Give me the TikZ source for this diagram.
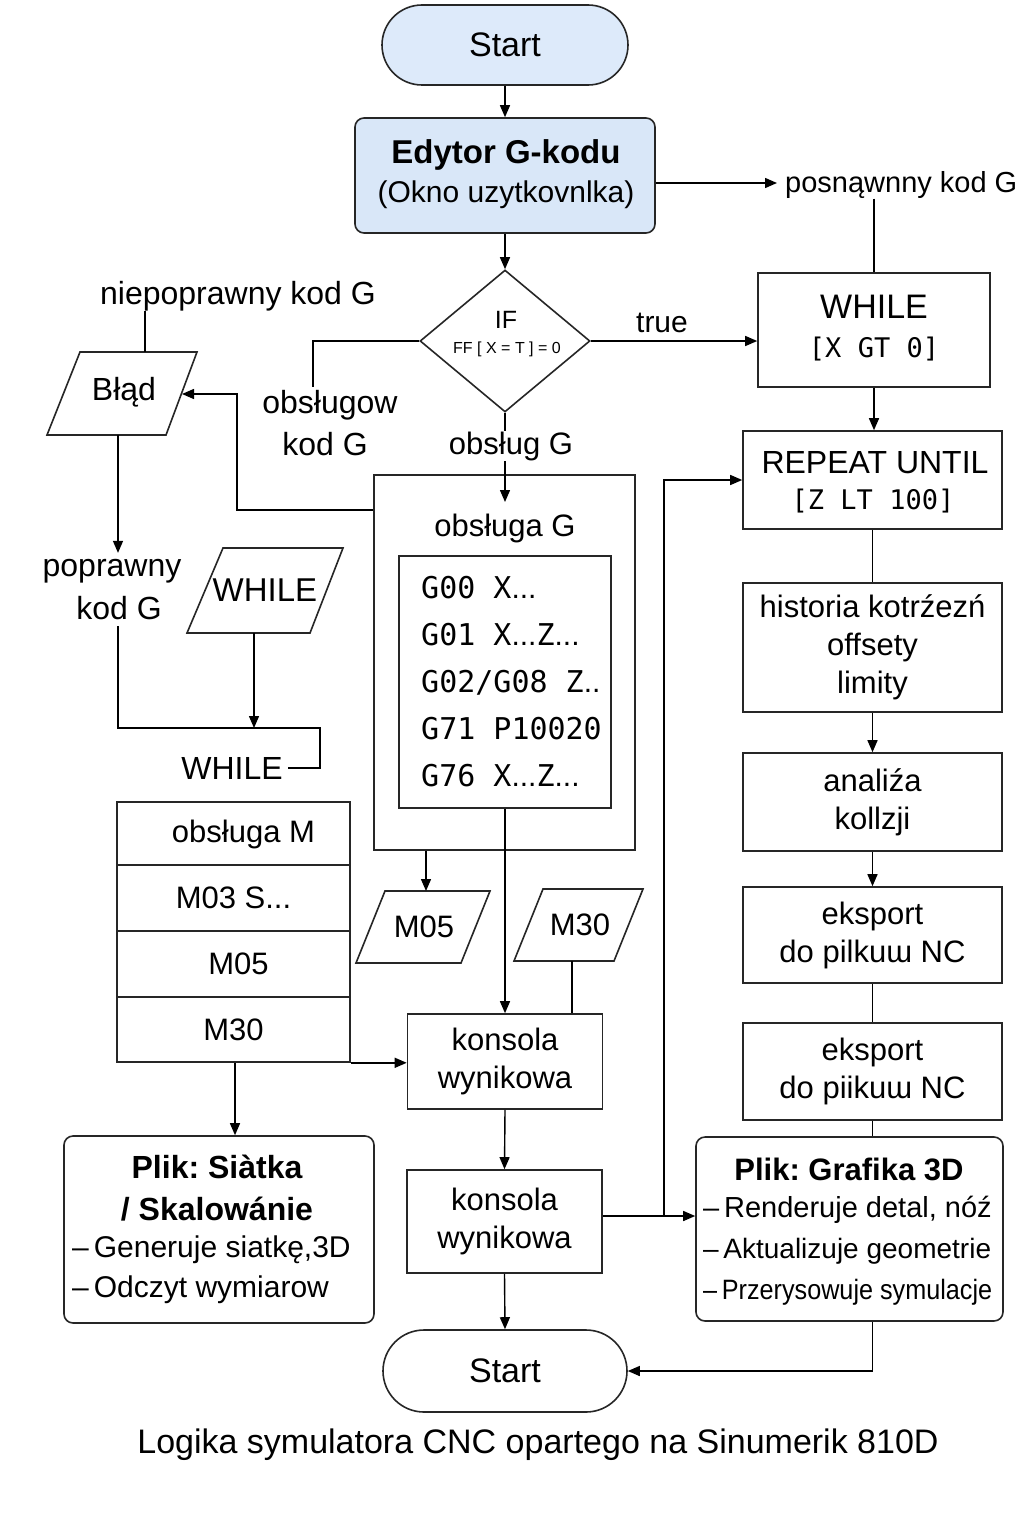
\documentclass[tikz,border=0pt]{standalone}
\usepackage{fontspec}
\setmainfont{Liberation Sans}
\newfontfamily\monof{DejaVu Sans Mono}
\newfontfamily\condf[FakeStretch=0.9]{Liberation Sans}
\usetikzlibrary{arrows.meta,shapes.geometric}
\newcommand\myfs[2]{\fontsize{#1}{#2}\selectfont}
\newcommand\dts{{\rmfamily...}}
\newcommand\ddts{{\rmfamily..}}
\definecolor{startblue}{RGB}{221,234,250}
\definecolor{edblue}{RGB}{217,231,248}
\frenchspacing
\begin{document}
\begin{tikzpicture}[x=1pt,y=-1pt,
  box/.style={draw=black!85, line width=1.6pt, inner sep=0pt, align=center, fill=white},
  rbox/.style={box, rounded corners=9pt},
  txt/.style={inner sep=0pt, align=center},
  arr/.style={line width=1.4pt, -{Triangle[length=12pt,width=10pt]}},
  ln/.style={line width=1.4pt},
  para/.style={draw=black!85, line width=1.6pt, line join=miter},
  big/.style={font=\myfs{31}{38}},
]
\useasboundingbox (0,0) rectangle (1024,1536);
\fill[white] (0,0) rectangle (1024,1536);

% ---------- top column ----------
\node[box, fill=startblue, rounded corners=40pt, minimum width=246pt, minimum height=80pt] (start) at (505,45) {\myfs{34}{40}Start};
\node[rbox, fill=edblue, minimum width=300pt, minimum height=115pt] (edit) at (505,175.5) {};
\node[txt, font=\myfs{33}{40}\bfseries] (edit1) at (506,155) {Edytor G-kodu};
\node[txt, font=\myfs{30}{40}] (edit2) at (506,195) {(Okno uzytkovnlka)};
\node[txt, font=\myfs{29}{36}, anchor=west] (posl) at (785,185) {posnąwnny kod G};

\node[diamond, draw=black!85, line width=1.6pt, aspect=1.2, minimum width=170pt, minimum height=142pt, inner sep=0pt] (ifd) at (505,341) {};
\node[txt, font=\myfs{25}{30}] (iftxt) at (506,320) {IF};
\node[txt, font=\myfs{16}{18}] (ifcond) at (507,349) {FF [ X = T ] = 0};

% right column
\node[box, minimum width=232pt, minimum height=114pt] (while) at (874,330) {};
\node[txt, font=\myfs{34}{42}] (while1) at (874,307) {WHILE};
\node[txt, font=\monof\myfs{27}{42}] (while2) at (874,349) {[X GT 0]};
\node[box, minimum width=259pt, minimum height=98pt] (repeat) at (872.5,480) {};
\node[txt, font=\myfs{32}{40}] (rep1) at (875,463) {REPEAT UNTIL};
\node[txt, font=\monof\myfs{27}{40}] (rep2) at (873,501) {[Z LT 100]};
\node[box, big, minimum width=259pt, minimum height=129pt] (hist) at (872.5,647.5)
  {historia kotrźezń\\offsety\\limity};
\node[box, big, minimum width=259pt, minimum height=98pt] (anal) at (872.5,802)
  {analiźa\\kollzji};
\node[box, big, minimum width=259pt, minimum height=96pt] (eks1) at (872.5,935)
  {eksport\\do pilkuɯ NC};
\node[box, big, minimum width=259pt, minimum height=97pt] (eks2) at (872.5,1071.5)
  {eksport\\do piikuɯ NC};
\node[rbox, minimum width=307pt, minimum height=184pt] (grafika) at (849.5,1229) {};
\node[txt, font=\myfs{31}{38}\bfseries] (gtit) at (849,1169) {Plik: Grafika 3D};
\node[txt, anchor=west, align=left] (gb1) at (703,1210) {\myfs{29}{36}–\,Renderuje detal, nóź};
\node[txt, anchor=west, align=left] (gb2) at (703,1251) {\myfs{28}{36}–\,Aktualizuje geometrie};
\node[txt, anchor=west, align=left] (gb3) at (703,1292) {\condf\myfs{28}{36}–\,Przerysowuje symulacje};

% centre column
\node[box, minimum width=261pt, minimum height=375pt, fill=none] (gouter) at (504.5,662.5) {};
\node[txt, font=\myfs{31}{38}] (gtitle) at (505,528) {obsługa G};
\coordinate (gin) at (505,502);
\node[box, minimum width=212pt, minimum height=252pt] (gcode) at (505,682) {};
\node[txt, anchor=west, align=left, font=\monof\myfs{30}{47}] (gtext) at (421,682)
  {G00 X\dts\\G01 X\dts Z\dts\\G02/G08 Z\ddts\\G71 P10020\\G76 X\dts Z\dts};

\node[box, big, minimum width=195pt, minimum height=95pt] (kons1) at (505,1061.5) {konsola\\wynikowa};
\node[box, big, minimum width=195pt, minimum height=103pt] (kons2) at (504.5,1221.5) {konsola\\wynikowa};
\node[box, rounded corners=41pt, minimum width=244pt, minimum height=82pt] (end) at (505,1371) {\myfs{34}{40}Start};

% parallelograms
\draw[para] (385,891) -- (490,891) -- (461,963) -- (356,963) -- cycle;
\node[txt, big] (m05) at (424,927) {M05};
\coordinate (m05N) at (426,891);
\draw[para] (543,889) -- (643,889) -- (614,961) -- (514,961) -- cycle;
\node[txt, big] (m30) at (580,925) {M30};
\coordinate (m30S) at (572,961);

% left column
\node[txt, font=\myfs{32}{38}] (niep) at (238,296) {niepoprawny kod G};
\draw[para] (80,352) -- (197,352) -- (166,435) -- (47,435) -- cycle;
\node[txt, font=\myfs{32}{38}] (blad) at (124,392) {Błąd};
\coordinate (bladN) at (145,352);
\coordinate (bladS) at (118,435);
\coordinate (bladR) at (182,394);
\node[txt, font=\myfs{32}{38}] (popr1) at (112,571) {poprawny};
\node[txt, font=\myfs{32}{38}] (popr2) at (119,608) {kod G};
\coordinate (poprS) at (118,626);
\draw[para] (223,548) -- (343,548) -- (310,633) -- (187,633) -- cycle;
\node[txt, font=\myfs{33}{38}] (wpar) at (265,590) {WHILE};
\coordinate (wparS) at (254,633);
\coordinate (wj) at (254,728);
\coordinate (pj) at (320,728);
\node[txt, font=\myfs{32}{38}, inner xsep=5pt] (whileL) at (232,768) {WHILE};

\node[box, big, minimum width=233pt, minimum height=64pt] (m1) at (233.5,834) {\hspace*{20pt}obsługa M};
\node[box, big, minimum width=233pt, minimum height=66pt] (m2) at (233.5,898) {M03 S...};
\node[box, big, minimum width=233pt, minimum height=66pt] (m3) at (233.5,964) {\hspace*{10pt}M05};
\node[box, big, minimum width=233pt, minimum height=65pt] (m4) at (233.5,1029.5) {M30};

\node[rbox, minimum width=310pt, minimum height=187pt] (siatka) at (219,1229.5) {};
\node[txt, font=\myfs{32}{43}\bfseries] (stit1) at (217,1167) {Plik: Siàtka};
\node[txt, font=\myfs{32}{43}\bfseries] (stit2) at (217,1209) {/ Skalowánie};
\node[txt, anchor=west, align=left, font=\myfs{30}{40}] (sbul1) at (72,1250) {–\,Generuje siatkę,3D};
\node[txt, anchor=west, align=left, font=\myfs{30}{40}] (sbul2) at (72,1290) {–\,Odczyt wymiarow};

\node[txt, font=\myfs{34}{40}] (cap) at (538,1445) {Logika symulatora CNC opartego na Sinumerik 810D};

% ---------- connectors ----------
\draw[arr] (start.south) -- (edit.north);
\draw[arr] (edit.south) -- (ifd.north);
\draw[arr] ([yshift=-7.5pt]edit.east) -- ([xshift=-8pt,yshift=2pt]posl.west);
\draw[ln] (while.north |- posl.south) -- (while.north);
\draw[arr] (ifd.east) -- (while.west |- ifd.east);
\node[txt, font=\myfs{30}{36}] (true) at (662,323) {true};
\coordinate (lb) at (313,387);
\draw[ln] (ifd.west) -| (lb);
\node[txt, font=\myfs{32}{38}] (obsl) at (330,405) {obsługow};
\node[txt, font=\myfs{32}{38}] (obsl2) at (325,444) {kod G};
\draw[arr] (ifd.south) -- (gin);
\node[txt, font=\myfs{31}{38}, fill=white, inner ysep=1pt] (obsg) at (511,446) {obsług G};

\draw[arr] ([yshift=152.5pt]gouter.west) -| (bladR -| 237,0) -- (bladR);
\draw[ln] (niep.south -| bladN) -- (bladN);
\draw[arr] (bladS) -- ([yshift=6pt]bladS |- popr1.north);
\draw[ln] (poprS) |- (pj) |- (whileL.east);
\draw[arr] (wparS) -- (wj);

\draw[arr] (m05N |- gouter.south) -- (m05N);
\draw[arr] (gcode.south) -- (kons1.north);
\draw[ln] (m30S) -- (m30S |- kons1.north);
\draw[arr] (m4.south east) -- (kons1.west |- m4.south east);
\draw[arr] ([xshift=1.5pt]m4.south) -- ([xshift=1.5pt]m4.south |- siatka.north);
\draw[arr] (kons1.south) -- (kons2.north);
\draw[arr] (kons2.south) -- (end.north);
\coordinate (jr) at (664,1216);
\draw[arr] (kons2.east |- jr) -- (grafika.west |- jr);
\draw[arr] (jr) |- (repeat.west);

\draw[arr] (while.south) -- (while.south |- repeat.north);
\draw[ln] (repeat.south) -- (hist.north);
\draw[arr] (hist.south) -- (anal.north);
\draw[arr] (anal.south) -- (eks1.north);
\draw[ln] (eks1.south) -- (eks2.north);
\draw[ln] (eks2.south) -- (eks2.south |- grafika.north);
\draw[arr] (grafika.south -| eks2.south) |- (end.east);
\end{tikzpicture}
\end{document}
